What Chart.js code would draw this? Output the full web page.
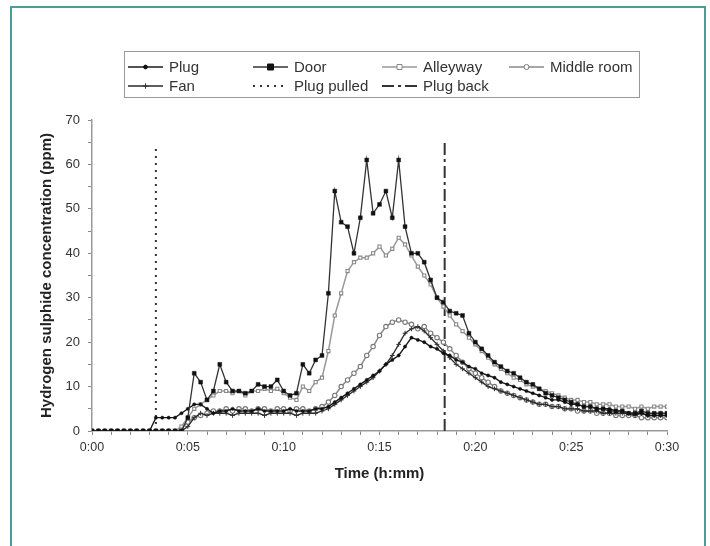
<!DOCTYPE html>
<html>
<head>
<meta charset="utf-8">
<script src="https://cdn.jsdelivr.net/npm/chart.js@4"></script>
<style>
  html, body { margin: 0; padding: 0; background: #fff; }
  #wrap { position: relative; width: 710px; height: 546px; }
</style>
</head>
<body>
<div id="wrap"><canvas id="chart" width="710" height="546"></canvas></div>
<script>
'use strict';
/* global Chart */

// ─── Data ─────────────────────────────────────────────────────────────────────
// Sample times in seconds (one reading every 20 s)
const seconds = [
  0, 20, 40, 60, 80, 100, 120, 140, 160, 180, 200, 220, 240, 260, 280, 300,
  320, 340, 360, 380, 400, 420, 440, 460, 480, 500, 520, 540, 560, 580, 600,
  620, 640, 660, 680, 700, 720, 740, 760, 780, 800, 820, 840, 860, 880, 900,
  920, 940, 960, 980, 1000, 1020, 1040, 1060, 1080, 1100, 1120, 1140, 1160, 1180, 1200,
  1220, 1240, 1260, 1280, 1300, 1320, 1340, 1360, 1380, 1400, 1420, 1440, 1460, 1480, 1500,
  1520, 1540, 1560, 1580, 1600, 1620, 1640, 1660, 1680, 1700, 1720, 1740, 1760, 1780, 1800,
];

// Hydrogen sulphide (ppm)
const plug = [
  0, 0, 0, 0, 0, 0, 0, 0, 0, 0,
  3, 3, 3, 3, 4, 5, 6, 6, 5, 4,
  4.5, 4.5, 5, 4.5, 4.5, 4.5, 5, 4.5, 4.5, 4.5, 4.5, 5, 4.5, 4.5, 4.5, 5,
  5, 5.5, 6.5, 7.5, 8.5, 9.5, 10.5, 11.5, 12.5, 13.5, 15, 16, 17, 19, 21, 20.5, 20, 19, 18.5, 17.5, 17,
  16, 15.5, 14.5, 14, 13, 12.5, 12, 11, 10.5, 10, 9.5, 9, 8.5, 8, 7.5, 7, 7, 6.5, 6, 6,
  5.5, 5.5, 5, 5, 5, 4.5, 4.5, 4, 4, 4, 3.5, 3.5, 3.5, 3.5,
];
const door = [
  0, 0, 0, 0, 0, 0, 0, 0, 0, 0, 0, 0, 0, 0, 0,
  3, 13, 11, 7, 9, 15, 11, 9, 9, 8.5, 9, 10.5, 10, 10, 11.5, 9, 8, 8.5, 15, 13, 16,
  17, 31, 54, 47, 46, 40, 48, 61, 49, 51, 54, 48, 61, 46, 40, 40, 38, 34, 30, 29, 27,
  26.5, 26, 22, 20, 18.5, 17, 15.5, 14.5, 13.5, 13, 12, 11, 10.5, 9.5, 8.5, 8, 7.5, 7, 6.5, 6,
  5.5, 5.5, 5, 5, 4.5, 4.5, 4.5, 4, 4, 4.5, 4, 4, 4, 4,
];
const alleyway = [
  0, 0, 0, 0, 0, 0, 0, 0, 0, 0, 0, 0, 0, 0,
  1, 3, 5, 6, 7, 8, 9, 9, 8.5, 9, 8, 9, 9, 9.5, 9, 9.5, 8.5, 7.5, 7, 10, 9, 11,
  12, 18, 26, 31, 36, 38, 39, 39, 40, 41.5, 39.5, 41, 43.5, 42, 39.5, 37, 35, 33, 30, 28, 26,
  24, 22.5, 21, 19.5, 18, 16.5, 15, 14, 13, 12, 11.5, 10.5, 10, 9.5, 9, 8.5, 8, 7.5, 7, 7,
  6.5, 6.5, 6, 6, 6, 5.5, 5.5, 5.5, 5, 5.5, 5, 5.5, 5.5, 5.5,
];
const middleRoom = [
  0, 0, 0, 0, 0, 0, 0, 0, 0, 0, 0, 0, 0, 0,
  0.5, 2, 3, 3.5, 4, 4.5, 4.5, 5, 4.5, 5, 5, 4.5, 5, 5, 4.5, 5, 5, 4.5, 5, 5, 4.5, 5,
  5.5, 6.5, 8, 10, 11.5, 13, 14.5, 17, 19, 21.5, 23.5, 24.5, 25, 24.5, 24, 23, 23.5, 22, 21, 20, 18.5,
  17, 15.5, 14, 13, 12, 11, 10, 9, 8.5, 8, 7.5, 7, 6.5, 6, 6, 5.5, 5.5, 5, 5, 4.5,
  4.5, 4.5, 4, 4, 4, 3.5, 3.5, 3.5, 3.5, 3, 3, 3, 3, 3,
];
const fan = [
  0, 0, 0, 0, 0, 0, 0, 0, 0, 0, 0, 0, 0, 0, 0,
  1, 3, 4, 3.5, 4, 4, 4, 3.5, 4, 4, 4, 4, 3.5, 4, 4, 4, 4, 3.5, 4, 4, 4,
  4.5, 5, 6, 7, 8, 9, 10, 11, 12, 13.5, 15, 17, 19.5, 22, 23, 23.5, 22.5, 21, 19.5, 18, 16.5,
  15, 14, 13, 12, 11, 10, 9.5, 9, 8.5, 8, 7.5, 7, 6.5, 6, 6, 5.5, 5.5, 5, 5, 5,
  4.5, 4.5, 4.5, 4, 4, 4, 4, 4, 3.5, 4, 3.5, 3.5, 3.5, 3.5,
];

// Event markers: time (s) and height of the vertical line (ppm)
const plugPulledSec = 200;
const plugPulledTop = 63.5;
const plugBackSec   = 1104;
const plugBackTop   = 65.5;

// Axis ranges
const xMaxSec  = 1800;
const yMax     = 70;

// ─── Helpers ──────────────────────────────────────────────────────────────────
const pts = (arr) => seconds.map((s, i) => ({ x: s, y: arr[i] }));

/** 0, 300, 600 ... seconds → "0:00", "0:05", "0:10" ... */
function fmtTime(sec) {
  const m = Math.round(sec / 60);
  return `0:${String(m).padStart(2, '0')}`;
}

const FONT = "'Liberation Sans', Arial, sans-serif";

// ─── Datasets ─────────────────────────────────────────────────────────────────
const datasets = [
  {
    label: 'Door', data: pts(door),
    borderColor: '#333', borderWidth: 1.3,
    pointStyle: 'rect', pointRadius: 2.7,
    pointBackgroundColor: '#111', pointBorderColor: '#111', pointBorderWidth: 0.5,
  },
  {
    label: 'Plug', data: pts(plug),
    borderColor: '#1a1a1a', borderWidth: 1.4,
    pointStyle: 'circle', pointRadius: 1.6,
    pointBackgroundColor: '#111', pointBorderColor: '#111', pointBorderWidth: 0.5,
  },
  {
    label: 'Fan', data: pts(fan),
    borderColor: '#2a2a2a', borderWidth: 1.3,
    pointStyle: 'cross', pointRadius: 2.4,
    pointBackgroundColor: '#333', pointBorderColor: '#333', pointBorderWidth: 1,
  },
  {
    label: 'Alleyway', data: pts(alleyway),
    borderColor: '#999', borderWidth: 1.5,
    pointStyle: 'rect', pointRadius: 2.2,
    pointBackgroundColor: '#fff', pointBorderColor: '#888', pointBorderWidth: 1.1,
  },
  {
    label: 'Middle room', data: pts(middleRoom),
    borderColor: '#888', borderWidth: 1.5,
    pointStyle: 'circle', pointRadius: 2.2,
    pointBackgroundColor: '#fff', pointBorderColor: '#777', pointBorderWidth: 1.1,
  },
  {
    label: 'Plug pulled',
    data: [{ x: plugPulledSec, y: 0 }, { x: plugPulledSec, y: plugPulledTop }],
    borderColor: '#333', borderWidth: 2, borderDash: [2, 5],
    pointRadius: 0,
  },
  {
    label: 'Plug back',
    data: [{ x: plugBackSec, y: 0 }, { x: plugBackSec, y: plugBackTop }],
    borderColor: '#333', borderWidth: 2, borderDash: [12, 4, 3, 4],
    pointRadius: 0,
  },
];

// ─── Plugins ──────────────────────────────────────────────────────────────────
// White page and the teal frame round the figure
const framePlugin = {
  id: 'frame',
  beforeDraw(chart) {
    const { ctx, width, height } = chart;
    ctx.save();
    ctx.fillStyle = '#fff';
    ctx.fillRect(0, 0, width, height);
    ctx.restore();
  },
  afterDraw(chart) {
    const { ctx } = chart;
    ctx.save();
    ctx.strokeStyle = '#4b9b97';
    ctx.lineWidth = 2;
    ctx.strokeRect(11, 7, 694, 600);
    ctx.restore();
  },
};

function drawMarker(ctx, style, x, y, r, fill, stroke) {
  ctx.save();
  ctx.fillStyle = fill;
  ctx.strokeStyle = stroke;
  ctx.lineWidth = 1;
  ctx.setLineDash([]);
  ctx.beginPath();
  if (style === 'rect') {
    ctx.rect(x - r, y - r, 2 * r, 2 * r);
    ctx.fill(); ctx.stroke();
  } else if (style === 'circle') {
    ctx.arc(x, y, r, 0, Math.PI * 2);
    ctx.fill(); ctx.stroke();
  } else if (style === 'cross') {
    ctx.moveTo(x, y - r); ctx.lineTo(x, y + r);
    ctx.moveTo(x - r, y); ctx.lineTo(x + r, y);
    ctx.stroke();
  }
  ctx.restore();
}

// Boxed legend in a fixed 4-column grid, like the original figure
const legendPlugin = {
  id: 'boxLegend',
  afterDraw(chart) {
    const { ctx } = chart;
    const cols = [128, 253, 382, 509];
    const rows = [67, 86];
    const order = ['Plug', 'Door', 'Alleyway', 'Middle room', 'Fan', 'Plug pulled', 'Plug back'];

    ctx.save();
    ctx.strokeStyle = '#999';
    ctx.lineWidth = 1;
    ctx.strokeRect(124.5, 51.5, 515, 46);

    ctx.font = `15px ${FONT}`;
    ctx.fillStyle = '#333';
    ctx.textBaseline = 'middle';

    order.forEach((name, k) => {
      const ds = chart.data.datasets.find((d) => d.label === name);
      const x0 = cols[k % 4];
      const y  = rows[Math.floor(k / 4)];
      ctx.save();
      ctx.strokeStyle = ds.borderColor;
      ctx.lineWidth = ds.borderWidth;
      ctx.setLineDash(ds.borderDash || []);
      ctx.beginPath();
      ctx.moveTo(x0, y);
      ctx.lineTo(x0 + 35, y);
      ctx.stroke();
      ctx.restore();
      if (ds.pointRadius > 0) {
        drawMarker(ctx, ds.pointStyle, x0 + 17.5, y, ds.pointRadius + 0.3,
          ds.pointBackgroundColor, ds.pointBorderColor);
      }
      ctx.fillText(name, x0 + 41, y + 1);
    });
    ctx.restore();
  },
};

// ─── Chart ────────────────────────────────────────────────────────────────────
new Chart(document.getElementById('chart'), {
  type: 'line',
  data: { datasets },
  plugins: [framePlugin, legendPlugin],
  options: {
    responsive: false,
    animation: false,
    devicePixelRatio: 1,
    layout: { padding: { top: 120, right: 43, bottom: 0, left: 0 } },
    elements: { line: { tension: 0 } },
    plugins: { legend: { display: false }, tooltip: { enabled: false } },
    scales: {
      x: {
        type: 'linear',
        min: 0, max: xMaxSec,
        afterFit: (s) => { s.height = 115; },
        border: { display: true, color: '#999', width: 1.5 },
        grid: { drawOnChartArea: false, drawTicks: true, tickLength: 4, tickColor: '#888' },
        ticks: {
          stepSize: 60, autoSkip: false, maxRotation: 0, padding: 5,
          color: '#333', font: { family: FONT, size: 12.5 },
          callback: (v) => (v % 300 === 0 ? fmtTime(v) : ''),
        },
        title: {
          display: true, text: 'Time (h:mm)', color: '#222',
          font: { family: FONT, size: 15, weight: 'bold' },
          padding: { top: 0, bottom: 63 },
        },
      },
      y: {
        min: 0, max: yMax,
        afterFit: (s) => { s.width = 92; },
        border: { display: true, color: '#999', width: 1.5 },
        grid: { drawOnChartArea: false, drawTicks: true, tickLength: 4, tickColor: '#888' },
        ticks: {
          stepSize: 5, autoSkip: false, padding: 8,
          color: '#333', font: { family: FONT, size: 13 },
          callback: (v) => (v % 10 === 0 ? String(v) : ''),
        },
        title: {
          display: true, text: 'Hydrogen sulphide concentration (ppm)', color: '#222',
          font: { family: FONT, size: 15, weight: 'bold' },
          padding: { top: 38, bottom: 0 },
        },
      },
    },
  },
});
</script>
</body>
</html>
